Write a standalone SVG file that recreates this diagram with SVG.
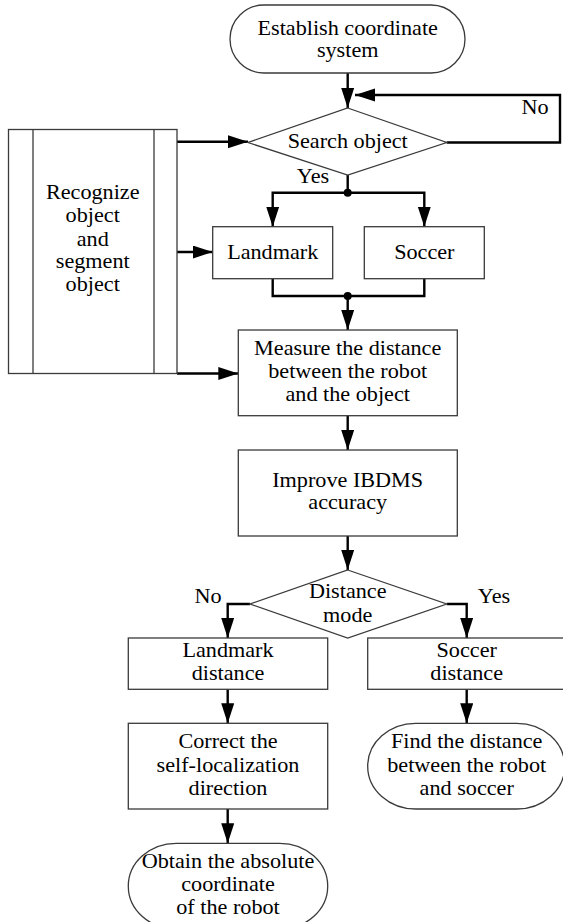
<svg xmlns="http://www.w3.org/2000/svg" width="563" height="922" viewBox="0 0 563 922">
<style>
.s{fill:#fff;stroke:#3a3a3a;stroke-width:1.3}
.c{fill:none;stroke:#000;stroke-width:2.4}
.t{font-family:"Liberation Serif","Times New Roman",serif;font-size:20px;fill:#000;text-anchor:middle}
</style>
<defs>
<marker id="ah" markerUnits="userSpaceOnUse" markerWidth="21" markerHeight="14" refX="20" refY="6.5" orient="auto">
<path d="M0,0 L20,6.5 L0,13 z" fill="#000"/>
</marker>
</defs>
<rect width="563" height="922" fill="#fff"/>

<g id="connectors">
<path class="c" d="M347.7,73 V108" marker-end="url(#ah)"/>
<path class="c" d="M446.7,142.5 H560 V95 H355" marker-end="url(#ah)"/>
<path class="c" d="M177,141.7 H248" marker-end="url(#ah)"/>
<path class="c" d="M177,252 H212.7" marker-end="url(#ah)"/>
<path class="c" d="M177,373.5 H238.3" marker-end="url(#ah)"/>
<path class="c" d="M347.7,175 V192.7"/>
<path class="c" d="M347.7,192.7 H272.7 V226.7" marker-end="url(#ah)"/>
<path class="c" d="M347.7,192.7 H424.3 V226.7" marker-end="url(#ah)"/>
<path class="c" d="M272.7,278.7 V296 H424.3 V278.7"/>
<path class="c" d="M347.7,296 V330" marker-end="url(#ah)"/>
<path class="c" d="M347.7,415.7 V450" marker-end="url(#ah)"/>
<path class="c" d="M347.7,536 V570" marker-end="url(#ah)"/>
<path class="c" d="M250,604 H227.7 V638" marker-end="url(#ah)"/>
<path class="c" d="M446.7,604 H466.7 V638" marker-end="url(#ah)"/>
<path class="c" d="M227.7,689.3 V723.3" marker-end="url(#ah)"/>
<path class="c" d="M466.7,689.3 V723.3" marker-end="url(#ah)"/>
<path class="c" d="M227.7,809 V843.3" marker-end="url(#ah)"/>
<circle cx="347.7" cy="192.7" r="4" fill="#000"/>
<circle cx="347.7" cy="296" r="4" fill="#000"/>
<g transform="translate(535 0) scale(1.11 1)"><text class="t"><tspan x="0" y="114">No</tspan></text></g>
<g transform="translate(313 0) scale(1.11 1)"><text class="t"><tspan x="0" y="183">Yes</tspan></text></g>
<g transform="translate(208 0) scale(1.11 1)"><text class="t"><tspan x="0" y="603">No</tspan></text></g>
<g transform="translate(494 0) scale(1.11 1)"><text class="t"><tspan x="0" y="603">Yes</tspan></text></g>
</g>

<g id="start">
<rect class="s" x="230" y="5" width="235" height="68" rx="34" ry="34"/>
<g transform="translate(347.7 0) scale(1.11 1)"><text class="t"><tspan x="0" y="35">Establish coordinate</tspan><tspan x="0" y="57.5">system</tspan></text></g>
</g>

<g id="search">
<polygon class="s" points="347.7,108 446.7,142.5 347.7,175 248,142.5"/>
<g transform="translate(347.7 0) scale(1.11 1)"><text class="t"><tspan x="0" y="148.3">Search object</tspan></text></g>
</g>

<g id="recognize">
<rect class="s" x="8.5" y="129.5" width="168.5" height="244"/>
<line class="s" x1="33" y1="129.5" x2="33" y2="373.5"/>
<line class="s" x1="154" y1="129.5" x2="154" y2="373.5"/>
<g transform="translate(92.7 0) scale(1.11 1)"><text class="t"><tspan x="0" y="199.3">Recognize</tspan><tspan x="0" y="222.5">object</tspan><tspan x="0" y="245.6">and</tspan><tspan x="0" y="268.3">segment</tspan><tspan x="0" y="290.7">object</tspan></text></g>
</g>

<g id="landmark">
<rect class="s" x="212.7" y="226.7" width="120" height="52"/>
<g transform="translate(272.7 0) scale(1.11 1)"><text class="t"><tspan x="0" y="259">Landmark</tspan></text></g>
</g>

<g id="soccer">
<rect class="s" x="364.3" y="226.7" width="120" height="52"/>
<g transform="translate(424.3 0) scale(1.11 1)"><text class="t"><tspan x="0" y="259">Soccer</tspan></text></g>
</g>

<g id="measure">
<rect class="s" x="238.3" y="330" width="219" height="85.7"/>
<g transform="translate(347.7 0) scale(1.11 1)"><text class="t"><tspan x="0" y="355">Measure the distance</tspan><tspan x="0" y="378.3">between the robot</tspan><tspan x="0" y="401.5">and the object</tspan></text></g>
</g>

<g id="improve">
<rect class="s" x="238.3" y="450" width="219" height="86"/>
<g transform="translate(347.7 0) scale(1.11 1)"><text class="t"><tspan x="0" y="486.7">Improve IBDMS</tspan><tspan x="0" y="509.5">accuracy</tspan></text></g>
</g>

<g id="mode">
<polygon class="s" points="347.7,570 446.7,604 347.7,638 250,604"/>
<g transform="translate(347.7 0) scale(1.11 1)"><text class="t"><tspan x="0" y="598.3">Distance</tspan><tspan x="0" y="621.7">mode</tspan></text></g>
</g>

<g id="landmark-distance">
<rect class="s" x="128.3" y="638" width="199.4" height="51.3"/>
<g transform="translate(228 0) scale(1.11 1)"><text class="t"><tspan x="0" y="656.7">Landmark</tspan><tspan x="0" y="680">distance</tspan></text></g>
</g>

<g id="soccer-distance">
<rect class="s" x="367.7" y="638" width="198" height="51.3"/>
<g transform="translate(466.7 0) scale(1.11 1)"><text class="t"><tspan x="0" y="656.7">Soccer</tspan><tspan x="0" y="680">distance</tspan></text></g>
</g>

<g id="correct">
<rect class="s" x="128.3" y="723.3" width="199.4" height="85.7"/>
<g transform="translate(228 0) scale(1.11 1)"><text class="t"><tspan x="0" y="748">Correct the</tspan><tspan x="0" y="771.7">self-localization</tspan><tspan x="0" y="795">direction</tspan></text></g>
</g>

<g id="find">
<rect class="s" x="367.7" y="723.3" width="197" height="85.7" rx="48" ry="42.8"/>
<g transform="translate(466.7 0) scale(1.11 1)"><text class="t"><tspan x="0" y="748">Find the distance</tspan><tspan x="0" y="771.7">between the robot</tspan><tspan x="0" y="795">and soccer</tspan></text></g>
</g>

<g id="obtain">
<rect class="s" x="128.3" y="843.3" width="199.4" height="85.7" rx="48" ry="42.8"/>
<g transform="translate(228 0) scale(1.11 1)"><text class="t"><tspan x="0" y="868">Obtain the absolute</tspan><tspan x="0" y="890.7">coordinate</tspan><tspan x="0" y="914">of the robot</tspan></text></g>
</g>
</svg>
